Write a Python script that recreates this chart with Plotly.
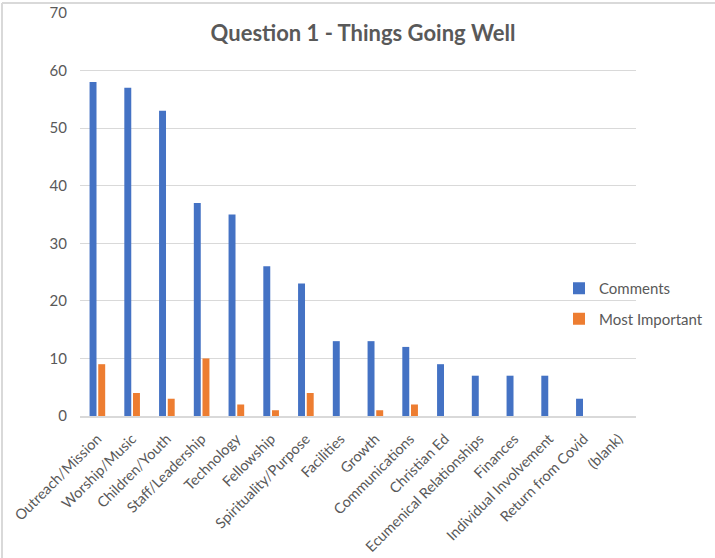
import plotly.graph_objects as go

categories = ["Outreach/Mission", "Worship/Music", "Children/Youth", "Staff/Leadership",
              "Technology", "Fellowship", "Spirituality/Purpose", "Facilities", "Growth",
              "Communications", "Christian Ed", "Ecumenical Relationships", "Finances",
              "Individual Involvement", "Return from Covid", "(blank)"]
comments = [58, 57, 53, 37, 35, 26, 23, 13, 13, 12, 9, 7, 7, 7, 3, 0]
most_important = [9, 4, 3, 10, 2, 1, 4, 0, 1, 2, 0, 0, 0, 0, 0, 0]
y_ticks = [0, 10, 20, 30, 40, 50, 60, 70]

FONT = "Lato, 'Open Sans', sans-serif"
GRAY = "#595959"

fig = go.Figure()
fig.add_trace(go.Bar(x=categories, y=comments, name="Comments",
                     marker=dict(color="#4472C4", line=dict(width=0)),
                     legendgroup="a"))
fig.add_trace(go.Bar(x=categories, y=most_important, name="Most Important",
                     marker=dict(color="#ED7D31", line=dict(width=0)),
                     legendgroup="b"))

fig.update_layout(
    width=715, height=558,
    margin=dict(l=80, r=79, t=13, b=142, autoexpand=False),
    paper_bgcolor="white", plot_bgcolor="white",
    barmode="group", bargap=0.5, bargroupgap=0.2,
    title=dict(text="<b>Question 1 - Things Going Well</b>",
               font=dict(family=FONT, size=22, color=GRAY),
               x=0.509, xanchor="center", xref="paper",
               y=1 - 33 / 558, yanchor="middle"),
    font=dict(family=FONT, size=14, color=GRAY),
    showlegend=True,
    legend=dict(x=559 / 715, xanchor="left", xref="container",
                y=1 - 272 / 558, yanchor="top", yref="container",
                font=dict(family=FONT, size=15, color=GRAY),
                traceorder="grouped", tracegroupgap=8,
                bgcolor="rgba(0,0,0,0)", itemwidth=30),
    xaxis=dict(tickangle=-45, showgrid=False, showline=True,
               linecolor="#d9d9d9", linewidth=1.5, ticks="", automargin=False,
               ticklabelstandoff=7,
               tickfont=dict(family=FONT, size=14.5, color=GRAY)),
    yaxis=dict(range=[0, 70], tickvals=y_ticks, showgrid=True,
               gridcolor="#d9d9d9", gridwidth=1, zeroline=False, automargin=False,
               showline=False, ticks="", ticklabelstandoff=12,
               tickfont=dict(family=FONT, size=15, color=GRAY)),
    shapes=[
        dict(type="line", xref="paper", yref="paper",
             x0=-78 / 556, x1=(715 - 80) / 556, y0=1 + 10 / 403, y1=1 + 10 / 403,
             line=dict(color="#d9d9d9", width=2)),
        dict(type="line", xref="paper", yref="paper",
             x0=-78 / 556, x1=-78 / 556, y0=1 + 10 / 403, y1=-142 / 403,
             line=dict(color="#d9d9d9", width=2)),
    ],
)

fig.write_html("out.html", config={"displayModeBar": False},
               post_script="document.body.style.margin='0';")
